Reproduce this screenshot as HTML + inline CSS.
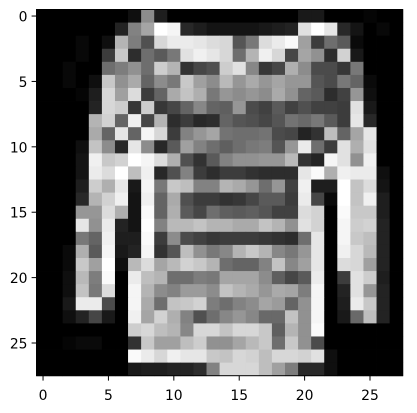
<!DOCTYPE html>
<html><head><meta charset="utf-8"><style>
html,body{margin:0;padding:0;background:#fff;}
svg{display:block;font-family:"DejaVu Sans","Liberation Sans",sans-serif;}
</style></head><body>
<svg id="chart" width="417" height="413" viewBox="0 0 417 413" xmlns="http://www.w3.org/2000/svg">
<g id="cells"></g>
<rect x="36.5" y="9.5" width="366.2" height="366.2" fill="none" stroke="#000" stroke-width="1"/>
<g id="ticks"></g>
</svg>
<script>
const rows = [
[0,0,0,0,0,0,0,15,140,30,0,0,0,0,0,0,0,0,0,0,25,25,0,0,0,5,0,0],
[0,0,0,0,0,0,35,130,165,255,245,40,30,20,20,20,20,25,30,35,225,255,230,40,20,0,8,0],
[0,0,0,8,0,15,180,125,80,215,235,235,230,220,215,85,120,220,235,250,160,60,110,90,10,0,0,0],
[0,0,0,8,0,60,200,45,110,90,120,225,240,230,215,110,180,240,215,70,165,145,45,210,25,0,0,0],
[0,0,8,0,0,110,125,145,110,205,180,50,70,80,205,225,135,55,70,175,140,75,75,55,120,0,0,0],
[0,0,8,0,15,200,145,170,100,140,120,200,160,140,185,150,170,150,165,150,150,85,75,120,100,10,0,0],
[0,0,0,5,30,215,160,220,60,100,170,195,175,120,150,140,150,140,170,145,100,90,45,65,150,15,0,0],
[0,0,0,0,35,215,205,55,205,55,70,100,135,100,95,150,75,65,90,65,80,65,65,60,225,25,0,0],
[0,0,0,0,180,210,100,240,70,180,45,60,40,45,100,85,80,70,85,115,105,120,90,60,230,40,0,0],
[0,0,0,0,170,100,230,100,245,215,60,130,150,165,115,110,110,115,75,70,35,50,190,100,165,230,0,0],
[0,0,0,15,195,140,40,230,140,40,90,160,130,110,95,110,120,125,85,150,235,110,60,225,175,225,0,0],
[0,0,0,20,240,200,210,255,245,220,175,80,50,90,130,145,145,150,150,185,50,35,245,225,145,240,0,0],
[0,0,0,20,235,220,255,190,240,40,80,130,60,45,60,60,50,45,45,45,230,250,175,240,235,235,15,0],
[0,0,0,30,205,175,230,25,245,120,200,190,130,130,180,170,150,110,150,65,240,30,30,255,195,220,20,0],
[0,0,0,40,180,210,240,20,240,100,170,80,60,60,50,55,70,90,90,60,235,70,10,255,195,240,30,0],
[0,0,0,150,150,220,175,20,250,100,175,90,70,110,95,90,95,85,65,65,220,210,0,250,200,200,30,0],
[0,0,0,230,145,235,35,20,255,130,185,185,195,180,180,170,170,195,180,145,225,210,0,245,205,210,35,0],
[0,0,0,120,100,240,30,30,250,60,140,75,65,55,60,60,60,55,50,45,110,230,0,245,200,190,35,0],
[0,0,10,175,90,245,25,35,245,50,85,190,145,120,135,180,200,180,135,120,150,230,0,240,215,185,35,0],
[0,0,10,200,160,255,15,185,220,165,185,210,200,180,110,100,100,130,195,135,160,230,0,220,215,160,35,0],
[0,0,15,185,125,250,0,235,190,180,110,110,125,120,165,165,165,140,95,70,90,235,0,60,225,205,30,0],
[0,0,15,195,120,220,0,245,180,140,130,155,155,140,195,180,170,150,170,165,125,245,0,35,225,150,35,0],
[0,0,25,235,235,75,0,245,170,110,195,200,210,125,110,130,140,165,155,100,145,245,0,30,235,200,35,0],
[0,0,15,35,70,25,0,240,165,210,175,130,80,110,135,150,135,105,105,195,145,245,0,25,105,190,35,0],
[0,0,0,0,0,0,0,205,215,190,180,135,215,215,195,215,215,200,95,180,145,250,0,0,0,0,0,0],
[0,0,5,10,10,0,0,50,200,160,160,190,205,145,145,165,185,200,110,200,145,75,0,0,0,0,0,0],
[0,0,0,0,0,0,0,250,235,215,240,230,230,200,195,215,210,190,215,215,210,225,15,0,0,0,0,0],
[0,0,0,0,0,0,0,25,30,30,35,35,45,130,215,215,215,190,160,125,40,40,15,0,0,0,0,0]
];
const tickValues = [0,5,10,15,20,25];
const tickLabels = ["0","5","10","15","20","25"];

const NS="http://www.w3.org/2000/svg";
const x0=36.5, y0=9.5, cell=366.2/28;
const xs = c => x0 + c*cell;
const ys = r => y0 + r*cell;
const cells=document.getElementById('cells');
rows.forEach((row,r)=>row.forEach((v,c)=>{
  const el=document.createElementNS(NS,'rect');
  
  
  el.setAttribute('x',xs(c)); el.setAttribute('y',ys(r));
  el.setAttribute('width',cell+0.4); el.setAttribute('height',cell+0.4);
  el.setAttribute('fill',`rgb(${v},${v},${v})`);
  cells.appendChild(el);
}));
const ticks=document.getElementById('ticks');
tickValues.forEach((t,i)=>{
  const cx=xs(t+0.5), cy=ys(t+0.5);
  const lx=document.createElementNS(NS,'line');
  
  
  lx.setAttribute('x1',cx);lx.setAttribute('x2',cx);lx.setAttribute('y1',375.7);lx.setAttribute('y2',380.6);
  lx.setAttribute('stroke','#000');ticks.appendChild(lx);
  const tx=document.createElementNS(NS,'text');
  
  
  tx.setAttribute('x',cx);tx.setAttribute('y',400);tx.setAttribute('font-size','13.9');tx.setAttribute('text-anchor','middle');
  tx.textContent=tickLabels[i];ticks.appendChild(tx);
  const ly=document.createElementNS(NS,'line');
  
  
  ly.setAttribute('x1',31.6);ly.setAttribute('x2',36.5);ly.setAttribute('y1',cy);ly.setAttribute('y2',cy);
  ly.setAttribute('stroke','#000');ticks.appendChild(ly);
  const ty=document.createElementNS(NS,'text');
  
  
  ty.setAttribute('x',27.5);ty.setAttribute('y',cy+5.5);ty.setAttribute('font-size','13.9');ty.setAttribute('text-anchor','end');
  ty.textContent=tickLabels[i];ticks.appendChild(ty);
});
</script>
</body></html>
